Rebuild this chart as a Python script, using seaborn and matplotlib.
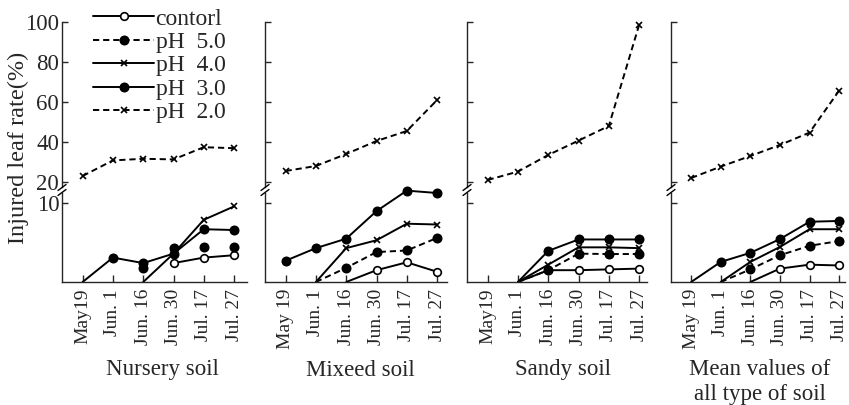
import numpy as np
import pandas as pd
import matplotlib
matplotlib.use("Agg")
import matplotlib.pyplot as plt
import seaborn as sns

nan = np.nan

# ---------------- data ----------------
dates = ["May19", "Jun. 1", "Jun. 16", "Jun. 30", "Jul. 17", "Jul. 27"]
dates_alt = ["May 19", "Jun. 1", "Jun. 16", "Jun. 30", "Jul. 17", "Jul. 27"]
soils = ["Nursery soil", "Mixeed soil", "Sandy soil", "Mean values of\nall type of soil"]
series = ["contorl", "pH  5.0", "pH  4.0", "pH  3.0", "pH  2.0"]

control = [[nan, nan, nan, 2.4, 3.1, 3.4],
           [nan, nan, 0.0, 1.5, 2.5, 1.3],
           [nan, 0.0, 1.5, 1.5, 1.6, 1.7],
           [nan, nan, 0.0, 1.7, 2.2, 2.1]]
ph50 = [[nan, nan, 1.8, 4.3, 4.4, 4.5],
        [nan, 0.0, 1.8, 3.8, 4.0, 5.6],
        [nan, 0.0, 1.5, 3.6, 3.55, 3.55],
        [nan, 0.0, 1.6, 3.4, 4.6, 5.2]]
ph40 = [[nan, nan, 0.0, 3.6, 7.9, 9.6],
        [nan, 0.0, 4.3, 5.3, 7.4, 7.3],
        [nan, 0.0, 2.2, 4.4, 4.4, 4.3],
        [nan, 0.0, 2.55, 4.45, 6.7, 6.7]]
ph30 = [[0.0, 3.1, 2.4, 3.6, 6.7, 6.6],
        [2.7, 4.3, 5.5, 9.0, 11.6, 11.3],
        [nan, 0.0, 3.95, 5.4, 5.4, 5.4],
        [0.0, 2.55, 3.7, 5.45, 7.65, 7.75]]
ph20 = [[23.0, 30.8, 31.6, 31.3, 37.4, 36.9],
        [25.5, 28.0, 34.0, 40.5, 45.5, 61.0],
        [21.0, 25.2, 33.5, 40.7, 48.0, 98.5],
        [22.0, 27.7, 33.0, 38.5, 44.7, 65.7]]

upper_ticks = [20, 40, 60, 80, 100]
lower_ticks = [10]

# ---------------- style ----------------
sns.set_theme(style="ticks")
plt.rcParams["font.family"] = ["Liberation Serif", "DejaVu Serif"]
plt.rcParams["axes.linewidth"] = 1.0

rows = []
all_vals = [control, ph50, ph40, ph30, ph20]
for si, s in enumerate(series):
    for pi, soil in enumerate(soils):
        for t, v in enumerate(all_vals[si][pi]):
            rows.append({"series": s, "soil": soil, "t": t, "value": v})
df = pd.DataFrame(rows).dropna()

dash = (0, (3.2, 2.0))
styles = {
    "contorl": dict(linestyle="-", marker="o", markerfacecolor="white", markersize=5.5),
    "pH  5.0": dict(linestyle=dash, marker="o", markerfacecolor="black", markersize=6),
    "pH  4.0": dict(linestyle="-", marker="x", markerfacecolor="black", markersize=4.5),
    "pH  3.0": dict(linestyle="-", marker="o", markerfacecolor="black", markersize=6),
    "pH  2.0": dict(linestyle=dash, marker="x", markerfacecolor="black", markersize=4.5),
}

W, H = 849, 405
fig = plt.figure(figsize=(W / 100, H / 100), dpi=100)

lefts = [62, 265, 467, 671]
xl = -0.68
xr = [5.43, 5.33, 5.26, 5.2]
units = [30.3, 30.3, 30.3, 29.6]
up_top, up_bot = 22, 187
lo_top, lo_bot = 193, 282

legend_handles = None
for pi, soil in enumerate(soils):
    wpx = (xr[pi] - xl) * units[pi]
    ax_u = fig.add_axes([lefts[pi] / W, 1 - up_bot / H, wpx / W, (up_bot - up_top) / H])
    ax_l = fig.add_axes([lefts[pi] / W, 1 - lo_bot / H, wpx / W, (lo_bot - lo_top) / H])
    for s in series:
        sub = df[(df.series == s) & (df.soil == soil)]
        ax = ax_u if s == "pH  2.0" else ax_l
        st = dict(styles[s])
        if pi == 0 and s == "pH  5.0":
            st["linestyle"] = "none"
        mk = [i for i, v in enumerate(sub["value"].tolist()) if v > 0]
        sns.lineplot(data=sub, x="t", y="value", ax=ax, color="black", lw=1.4,
                     markeredgecolor="black", markeredgewidth=1.2, markevery=mk,
                     clip_on=False, label=s, legend=False, **st)
    # upper axes
    ax_u.set_xlim(xl, xr[pi])
    ax_u.set_ylim(17.5, 100)
    ax_u.set_yticks(upper_ticks)
    ax_u.set_xticks([])
    for sp in ["top", "right", "bottom"]:
        ax_u.spines[sp].set_visible(False)
    ax_u.set_xlabel("")
    ax_u.set_ylabel("")
    ax_u.tick_params(axis="y", direction="in", length=4, width=1, labelsize=16.5, pad=2)
    # lower axes
    ax_l.set_xlim(xl, xr[pi])
    ax_l.set_ylim(0, 11.3)
    ax_l.set_yticks(lower_ticks)
    ax_l.set_xticks(range(len(dates)))
    ax_l.set_xticklabels(dates if pi in (0, 2) else dates_alt, rotation=90, fontsize=14)
    for sp in ["top", "right"]:
        ax_l.spines[sp].set_visible(False)
    ax_l.set_xlabel("")
    ax_l.set_ylabel("")
    ax_l.tick_params(axis="y", direction="in", length=4, width=1, labelsize=16.5, pad=2)
    ax_l.tick_params(axis="x", direction="in", length=5, width=1, pad=5)
    if pi != 0:
        ax_u.set_yticklabels([])
        ax_l.set_yticklabels([])
    for ax in (ax_u, ax_l):
        ax.set_facecolor("none")
    # break marks on the y-axis
    yb = 1 - (up_bot + lo_top) / 2 / H
    xb = lefts[pi] / W
    for dy in (-2.5, 2.5):
        fig.add_artist(plt.Line2D([xb - 4 / W, xb + 4 / W],
                                  [yb + (dy - 3) / H, yb + (dy + 3) / H],
                                  color="black", lw=1.0))
    # panel title
    tx = [162, 360, 563, 760][pi]
    ty = 370 if pi < 3 else 382
    fig.text(tx / W, 1 - ty / H, soil, ha="center", va="center", fontsize=16.5,
             linespacing=1.2)
    if pi == 3:
        legend_handles = ax_l.get_lines()[:4] + ax_u.get_lines()[:1]
    if pi == 0:
        ax_first = ax_u

ax_first.legend(handles=legend_handles, labels=series, loc="upper left",
                bbox_to_anchor=((93 - 62) / ((xr[0] - xl) * units[0]), (up_bot - 8) / (up_bot - up_top)),
                frameon=False, fontsize=17, handlelength=2.6, handletextpad=0.05,
                labelspacing=0.08, borderpad=0, borderaxespad=0)

fig.text(18 / W, 1 - 148 / H, "Injured leaf rate(%)", rotation=90, ha="center", va="center",
         fontsize=17.5)

fig.savefig("out.png", dpi=100, facecolor="white")
